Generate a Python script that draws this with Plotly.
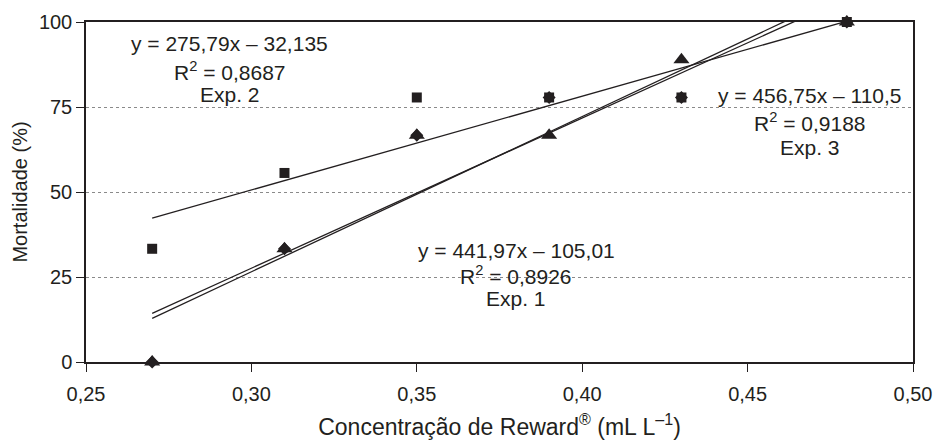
import plotly.graph_objects as go

# Data
conc = [0.27, 0.31, 0.35, 0.39, 0.43, 0.48]
exp1 = [0, 33.3, 66.7, 77.8, 77.8, 100]
exp2 = [33.3, 55.6, 77.8, 77.8, 77.8, 100]
exp3 = [0, 33.3, 66.7, 66.7, 88.9, 100]

# Trend line coefficients (slope, intercept)
coef1 = (441.97, -105.01)
coef2 = (275.79, -32.135)
coef3 = (456.75, -110.5)

eq_texts = {
    "exp1": ["y = 441,97x – 105,01", "R<sup>2</sup> = 0,8926", "Exp. 1"],
    "exp2": ["y = 275,79x – 32,135", "R<sup>2</sup> = 0,8687", "Exp. 2"],
    "exp3": ["y = 456,75x – 110,5", "R<sup>2</sup> = 0,9188", "Exp. 3"],
}

x_ticks = [0.25, 0.30, 0.35, 0.40, 0.45, 0.50]
y_ticks = [0, 25, 50, 75, 100]

INK = "#231f20"
FONT = "Liberation Sans, Arial, sans-serif"

fig = go.Figure()

xline = [conc[0], conc[-1]]
for a, b in (coef1, coef2, coef3):
    fig.add_trace(go.Scatter(
        x=xline, y=[a * xv + b for xv in xline], mode="lines",
        line=dict(color=INK, width=1.3), showlegend=False, hoverinfo="skip"))

fig.add_trace(go.Scatter(x=conc, y=exp1, mode="markers", name="Exp. 1",
                         marker=dict(symbol="diamond", size=10, color=INK),
                         cliponaxis=False, showlegend=False))
fig.add_trace(go.Scatter(x=conc, y=exp3, mode="markers", name="Exp. 3",
                         marker=dict(symbol="triangle-up", size=14, color=INK),
                         cliponaxis=False, showlegend=False))
fig.add_trace(go.Scatter(x=conc, y=exp2, mode="markers", name="Exp. 2",
                         marker=dict(symbol="square", size=10, color=INK),
                         cliponaxis=False, showlegend=False))

def add_block(x, ys, lines):
    for yv, t in zip(ys, lines):
        fig.add_annotation(x=x, y=yv, xref="x", yref="y", text=t, showarrow=False,
                           font=dict(family=FONT, size=21, color=INK),
                           xanchor="center", yanchor="middle")

add_block(0.2935, [93.6, 85.6, 78.8], eq_texts["exp2"])
add_block(0.3800, [32.9, 25.6, 18.8], eq_texts["exp1"])
add_block(0.4689, [78.5, 70.6, 63.2], eq_texts["exp3"])

fig.update_layout(
    width=940, height=444,
    margin=dict(l=86, r=27, t=22, b=82),
    paper_bgcolor="white", plot_bgcolor="white",
    separators=", ",
    font=dict(family=FONT, size=19, color=INK),
    showlegend=False,
)
fig.update_xaxes(
    range=[0.25, 0.50], tickvals=x_ticks, tickformat=".2f",
    showgrid=False, zeroline=False, automargin=False,
    showline=True, linecolor=INK, linewidth=1.5, mirror=True,
    ticks="outside", ticklen=8, tickcolor=INK, ticklabelstandoff=5,
    tickfont=dict(size=20),
    title=dict(text="Concentração de Reward<sup>®</sup> (mL L<sup>–1</sup>)",
               font=dict(size=23), standoff=15),
)
fig.update_yaxes(
    range=[0, 100], tickvals=y_ticks,
    showgrid=True, gridcolor="#8a8a8a", griddash="dot", gridwidth=1,
    zeroline=False, automargin=False,
    showline=True, linecolor=INK, linewidth=1.5, mirror=True,
    ticks="outside", ticklen=8, tickcolor=INK,
    tickfont=dict(size=20),
    title=dict(text="Mortalidade (%)", font=dict(size=20), standoff=6),
)

fig.write_html("out.html", config={"displayModeBar": False},
               post_script="document.body.style.margin='0';")
